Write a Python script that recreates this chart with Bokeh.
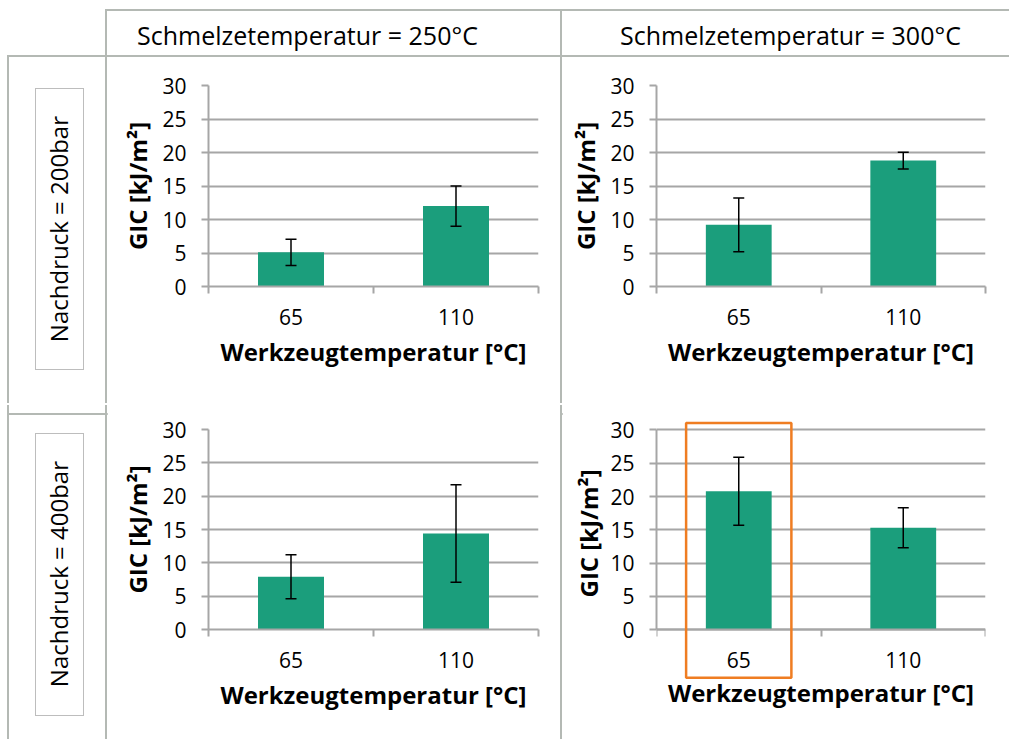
from bokeh.plotting import figure
from bokeh.models import (ColumnDataSource, Whisker, TeeHead, FixedTicker,
                          BoxAnnotation, Div, Range1d, Title)
from bokeh.layouts import row, column
from bokeh.embed import file_html
from bokeh.resources import INLINE

# ---------------- data ----------------
werkzeug = ["65", "110"]                      # Werkzeugtemperatur [°C]
schmelze = ["Schmelzetemperatur = 250°C", "Schmelzetemperatur = 300°C"]
nachdruck = ["Nachdruck = 200bar", "Nachdruck = 400bar"]
y_ticks = [0, 5, 10, 15, 20, 25, 30]
x_label = "Werkzeugtemperatur [°C]"
y_label = "GIC [kJ/m²]"

gic_250_200 = [5.1, 12.0]
err_250_200 = [1.95, 3.0]
gic_300_200 = [9.2, 18.8]
err_300_200 = [4.0, 1.25]
gic_250_400 = [7.9, 14.4]
err_250_400 = [3.3, 7.3]
gic_300_400 = [20.8, 15.3]
err_300_400 = [5.1, 3.0]
highlight_cat = "65"                          # highlighted in 300°C / 400bar

# ---------------- style ----------------
BAR = "#1b9e7c"
GRID = "#a6a6a6"
LINE = "#b4b9b4"
ORANGE = "#ef7d22"
FONT = "Open Sans"
TICK_FS = "21px"
LABEL_FS = "24px"
TEXT_FS = "24px"
HEAD_FS = "25px"


def make_title(text, align, offset, standoff):
    try:
        t = Title(text=text, align=align, offset=offset, standoff=standoff)
    except Exception:
        t = Title(text=text, align=align, offset=offset, standoff=0)
    t.text_font = FONT
    t.text_font_style = "bold"
    t.text_font_size = LABEL_FS
    t.text_color = "black"
    return t


def panel(values, errors, width, height, left, right, top, bottom, hl=None):
    n = len(werkzeug)
    xs = [i + 0.5 for i in range(n)]
    src = ColumnDataSource(dict(
        x=xs, top=values,
        upper=[v + e for v, e in zip(values, errors)],
        lower=[v - e for v, e in zip(values, errors)],
    ))
    y0, y1 = y_ticks[0], y_ticks[-1]
    if hl is not None:
        # enlarge the frame so that the highlight box (which reaches into
        # the axis area) is not clipped; the axes stay at 0..30
        yr = Range1d(y0 - 0.249 * y1, y1 * 1.047)
    else:
        yr = Range1d(y0, y1)
    p = figure(width=width, height=height, x_range=Range1d(0, n), y_range=yr,
               output_backend="svg", toolbar_location=None,
               min_border_left=left, min_border_right=right,
               min_border_top=top, min_border_bottom=bottom)
    if "frame_align" in p.properties():
        p.frame_align = False
    p.outline_line_color = None
    p.background_fill_color = "white"
    p.border_fill_color = "white"

    p.vbar(x="x", top="top", width=0.4, bottom=0, source=src,
           fill_color=BAR, line_color=None)

    w = Whisker(source=src, base="x", upper="upper", lower="lower",
                line_color="black", line_width=1.5, level="overlay",
                upper_head=TeeHead(size=11, line_color="black", line_width=1.5),
                lower_head=TeeHead(size=11, line_color="black", line_width=1.5))
    p.add_layout(w)

    # grid
    p.xgrid.visible = False
    p.ygrid.ticker = FixedTicker(ticks=y_ticks)
    p.ygrid.grid_line_color = GRID
    p.ygrid.grid_line_width = 2

    # y axis
    ya = p.yaxis[0]
    ya.ticker = FixedTicker(ticks=y_ticks)
    ya.bounds = (y0, y1)
    ya.axis_line_color = GRID
    ya.axis_line_width = 2
    ya.major_tick_line_color = GRID
    ya.major_tick_line_width = 2
    ya.major_tick_out = 7
    ya.major_tick_in = 0
    ya.minor_tick_line_color = None
    ya.major_label_text_font = FONT
    ya.major_label_text_font_size = TICK_FS
    ya.major_label_text_color = "black"
    ya.major_label_standoff = 15
    ya.axis_label = y_label
    ya.axis_label_text_font = FONT
    ya.axis_label_text_font_style = "bold"
    ya.axis_label_text_font_size = LABEL_FS
    ya.axis_label_text_color = "black"
    ya.axis_label_standoff = 5

    # x axis: labels at category centres, tick marks at category borders
    xa = p.xaxis[0]
    xa.ticker = FixedTicker(ticks=xs, minor_ticks=list(range(n + 1)))
    xa.major_label_overrides = {x: c for x, c in zip(xs, werkzeug)}
    xa.axis_line_color = GRID
    xa.axis_line_width = 2
    xa.major_tick_line_color = None
    xa.minor_tick_line_color = GRID
    xa.minor_tick_line_width = 2
    xa.minor_tick_out = 7
    xa.minor_tick_in = 0
    xa.major_label_text_font = FONT
    xa.major_label_text_font_size = TICK_FS
    xa.major_label_text_color = "black"
    xa.major_label_standoff = 15
    xa.axis_label = x_label
    xa.axis_label_text_font = FONT
    xa.axis_label_text_font_style = "bold"
    xa.axis_label_text_font_size = LABEL_FS
    xa.axis_label_text_color = "black"
    xa.axis_label_standoff = 7

    if hl is not None:
        # x axis sits at y = 0 inside the enlarged frame
        xa.fixed_location = y0
        xa.axis_label = None
        ya.axis_label = None
        p.add_layout(make_title(x_label, "center", 0, -11), "below")
        p.add_layout(make_title(y_label, "left", 82, 6), "left")
        i = werkzeug.index(hl)
        p.add_layout(BoxAnnotation(left=i + 0.5 - 0.32, right=i + 0.5 + 0.32,
                                   top=y1 * 1.035, bottom=y0 - 0.24 * y1,
                                   fill_alpha=0, line_color=ORANGE, line_alpha=1,
                                   line_width=2.5, level="overlay"))
    return p


def header(text, w, h, pad_left):
    html = (f'<div style="box-sizing:border-box;width:{w}px;height:{h - 9}px;margin-top:9px;'
            f'border-top:2px solid {LINE};border-bottom:2px solid {LINE};'
            f'display:flex;align-items:center;padding-left:{pad_left}px;padding-top:5px;'
            f'font-family:\'{FONT}\';font-size:{HEAD_FS};color:#000;white-space:nowrap;">{text}</div>')
    return Div(text=html, width=w, height=h, margin=0)


def corner(w, h):
    html = (f'<div style="box-sizing:border-box;width:{w - 7}px;height:{h - 9}px;'
            f'margin-top:9px;margin-left:7px;'
            f'border-right:2px solid {LINE};border-bottom:2px solid {LINE};"></div>')
    return Div(text=html, width=w, height=h, margin=0)


def vsep(h, top=0):
    html = (f'<div style="width:2px;height:{h - top}px;margin-top:{top}px;'
            f'background:{LINE};"></div>')
    return Div(text=html, width=2, height=h, margin=0)


def rowlabel(text, w, h, box_top, box_h):
    html = (f'<div style="box-sizing:border-box;width:{w - 7}px;height:{h}px;margin-left:7px;'
            f'position:relative;border-left:2px solid {LINE};border-right:2px solid {LINE};">'
            f'<div style="position:absolute;left:26px;top:{box_top}px;width:49px;height:{box_h}px;'
            f'box-sizing:border-box;border:1.5px solid #bdbdbd;display:flex;'
            f'align-items:center;justify-content:center;">'
            f'<span style="writing-mode:vertical-rl;transform:rotate(180deg);'
            f'font-family:\'{FONT}\';font-size:{TEXT_FS};color:#000;white-space:nowrap;">{text}</span>'
            f'</div></div>')
    return Div(text=html, width=w, height=h, margin=0)


W0, W1, W2 = 107, 453, 447
H0, H1, H2 = 57, 346, 334

p1 = panel(gic_250_200, err_250_200, W1, H1, 101, 22, 28, 117)
p2 = panel(gic_300_200, err_300_200, W2, H1, 94, 24, 28, 117)
p3 = panel(gic_250_400, err_250_400, W1, H2, 101, 22, 24, 110)
p4 = panel(gic_300_400, err_300_400, W2, H2, 94, 24, 15, 60, hl=highlight_cat)

hsep = Div(text=f'<div style="width:{W0 + W1 + 2 + W2 - 7}px;height:2px;margin-left:7px;'
                f'background:{LINE};"></div>',
           width=W0 + W1 + 2 + W2, height=2, margin=0)

layout = column(
    row(corner(W0, H0), header(schmelze[0], W1, H0, 30), vsep(H0, 9),
        header(schmelze[1], W2, H0, 58), spacing=0),
    row(rowlabel(nachdruck[0], W0, H1, 31, 282), p1, vsep(H1), p2, spacing=0),
    hsep,
    row(rowlabel(nachdruck[1], W0, H2, 28, 283), p3, vsep(H2), p4, spacing=0),
    spacing=0,
)

open("out.html", "w").write(file_html(layout, INLINE))
